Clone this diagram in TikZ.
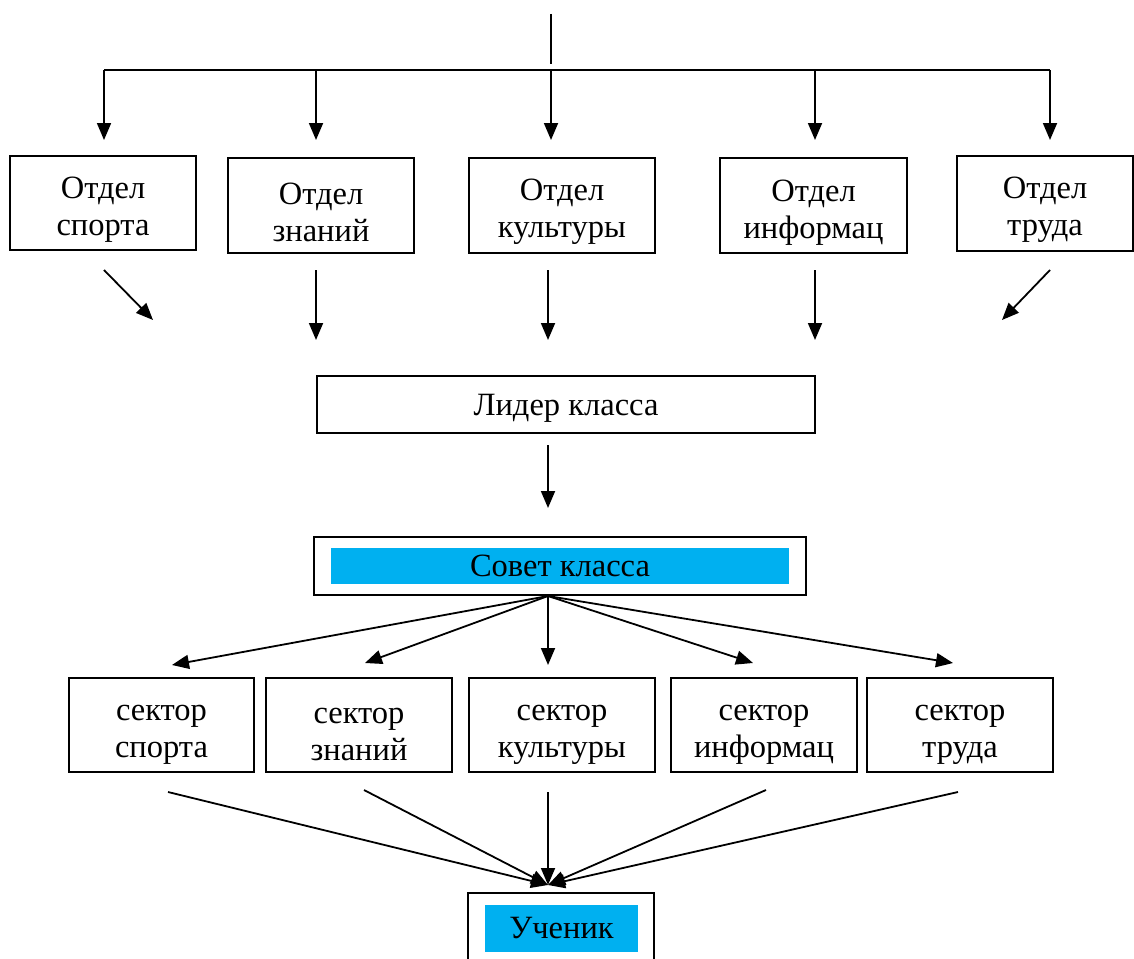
\documentclass[tikz,border=0pt]{standalone}
\usepackage{fontspec}
\setmainfont{Liberation Serif}
\usetikzlibrary{arrows.meta}
\definecolor{cy}{HTML}{00B0F0}
\newcommand{\tpa}{\rule{0pt}{35pt}}
\newcommand{\tpb}{\rule{0pt}{29pt}}
\begin{document}
\begin{tikzpicture}[x=1pt,y=-1pt,
  box/.style={draw,line width=2pt,rectangle,align=center,inner sep=0pt,font=\fontsize{32.5}{37}\selectfont},
  fillbox/.style={fill=cy,inner sep=0pt,font=\fontsize{32.5}{37}\selectfont},
  arr/.style={line width=1.8pt,-{Triangle[length=17pt,width=14pt]}},
  ln/.style={line width=1.8pt}]
\useasboundingbox (0,0) rectangle (1134,958);
\clip (0,0) rectangle (1134,958);
% top departments
\node[box,minimum width=186pt,minimum height=94pt] (o1) at (103,203) {\tpa Отдел\\спорта};
\node[box,minimum width=186pt,minimum height=95pt] (o2) at (321,205.5) {\tpa Отдел\\знаний};
\node[box,minimum width=186pt,minimum height=95pt] (o3) at (562,205.5) {\tpa Отдел\\культуры};
\node[box,minimum width=187pt,minimum height=95pt] (o4) at (813.5,205.5) {\tpa Отдел\\информац};
\node[box,minimum width=176pt,minimum height=95pt] (o5) at (1045,203.5) {\tpa Отдел\\труда};
% top connectors
\coordinate (t0) at (551,14);
\coordinate (t1) at (551,64);
\draw[ln] (t0) -- (t1);
\coordinate (h1) at (104,70);
\coordinate (h2) at (316,70);
\coordinate (h3) at (551,70);
\coordinate (h4) at (815,70);
\coordinate (h5) at (1050,70);
\draw[ln] (h1) -- (h5);
\foreach \i in {1,...,5} {\draw[arr] (h\i) -- ++(0,70);}
% lower free arrows
\coordinate (a1) at (104,270); \coordinate (b1) at (153,320);
\coordinate (a2) at (316,270); \coordinate (b2) at (316,340);
\coordinate (a3) at (548,270); \coordinate (b3) at (548,340);
\coordinate (a4) at (815,270); \coordinate (b4) at (815,340);
\coordinate (a5) at (1050,270); \coordinate (b5) at (1002,320);
\foreach \i in {1,...,5} {\draw[arr] (a\i) -- (b\i);}
% leader
\node[box,minimum width=498pt,minimum height=57pt] (lid) at (566,404.5) {\tpb Лидер класса};
\coordinate (l1) at (548,445); \coordinate (l2) at (548,508);
\draw[arr] (l1) -- (l2);
% council
\node[box,minimum width=492pt,minimum height=58pt] (sov) at (560,566) {};
\node[fillbox,minimum width=458pt,minimum height=36pt] (sovt) at (560,566) {Совет класса};
\coordinate (fan) at (548,596);
\coordinate (e1) at (172,665);
\coordinate (e2) at (365,663);
\coordinate (e3) at (548,665);
\coordinate (e4) at (753,663);
\coordinate (e5) at (953,663);
\foreach \i in {1,...,5} {\draw[arr] (fan) -- (e\i);}
% sectors
\node[box,minimum width=185pt,minimum height=94pt] (s1) at (161.5,725) {\tpa сектор\\спорта};
\node[box,minimum width=186pt,minimum height=94pt] (s2) at (359,725) {\tpa сектор\\знаний};
\node[box,minimum width=186pt,minimum height=94pt] (s3) at (562,725) {\tpa сектор\\культуры};
\node[box,minimum width=186pt,minimum height=94pt] (s4) at (764,725) {\tpa сектор\\информац};
\node[box,minimum width=186pt,minimum height=94pt] (s5) at (960,725) {\tpa сектор\\труда};
% bottom converging arrows
\coordinate (c1) at (168,792);
\coordinate (c2) at (364,790);
\coordinate (c3) at (548,792);
\coordinate (c4) at (766,790);
\coordinate (c5) at (958,792);
\coordinate (goal) at (548,885);
\foreach \i in {1,...,5} {\draw[arr] (c\i) -- (goal);}
% pupil
\node[box,minimum width=186pt,minimum height=71pt] (uch) at (561,928.5) {};
\node[fillbox,minimum width=153pt,minimum height=47pt] (ucht) at (561.5,928.5) {Ученик};
\end{tikzpicture}
\end{document}
